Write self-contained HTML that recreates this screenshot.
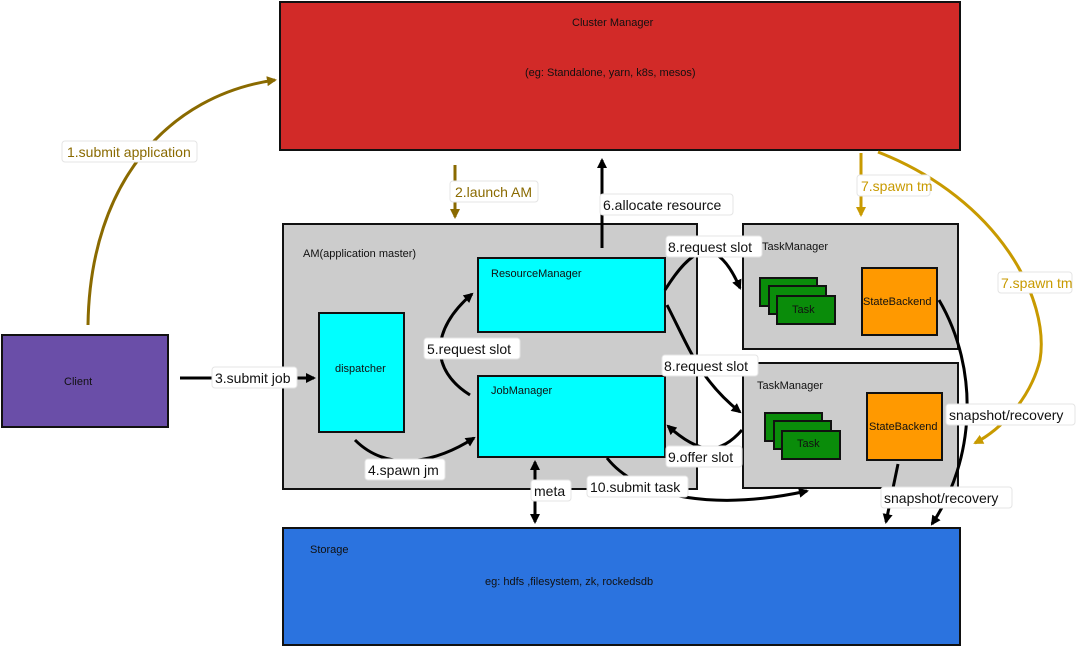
<!DOCTYPE html>
<html><head><meta charset="utf-8"><style>
body{margin:0;background:#fff;}
svg{display:block;font-family:"Liberation Sans",sans-serif;}
.lb{fill:#fff;stroke:#e4e4e4;stroke-width:1;}
.s{font-size:11px;fill:#111;}
</style></head><body>
<svg width="1080" height="648" viewBox="0 0 1080 648">
<defs>
<marker id="ak" markerWidth="12" markerHeight="12" refX="8" refY="5" orient="auto-start-reverse" markerUnits="userSpaceOnUse"><path d="M0,0 L10,5 L0,10 z" fill="#000"/></marker>
<marker id="ad" markerWidth="12" markerHeight="12" refX="8" refY="5" orient="auto" markerUnits="userSpaceOnUse"><path d="M0,0 L10,5 L0,10 z" fill="#8a6a00"/></marker>
<marker id="ay" markerWidth="12" markerHeight="12" refX="8" refY="5" orient="auto" markerUnits="userSpaceOnUse"><path d="M0,0 L10,5 L0,10 z" fill="#c89a00"/></marker>
</defs>
<g stroke="#111" stroke-width="2">
<rect x="280" y="2" width="680" height="148" fill="#d22a28"/>
<rect x="2" y="335" width="166" height="92" fill="#6a4ea8"/>
<rect x="283" y="224" width="414" height="265" fill="#cccccc"/>
<rect x="319" y="313" width="85" height="119" fill="#00ffff"/>
<rect x="478" y="258" width="187" height="74" fill="#00ffff"/>
<rect x="478" y="376" width="187" height="81" fill="#00ffff"/>
<rect x="743" y="224" width="215" height="125" fill="#cccccc"/>
<rect x="743" y="363" width="215" height="125" fill="#cccccc"/>
<rect x="760" y="278" width="57" height="28" fill="#0a8c0a"/>
<rect x="769" y="286" width="57" height="28" fill="#0a8c0a"/>
<rect x="777" y="296" width="58" height="28" fill="#0a8c0a"/>
<rect x="862" y="268" width="75" height="67" fill="#ff9900"/>
<rect x="765" y="413" width="57" height="28" fill="#0a8c0a"/>
<rect x="774" y="421" width="57" height="28" fill="#0a8c0a"/>
<rect x="782" y="431" width="58" height="28" fill="#0a8c0a"/>
<rect x="867" y="393" width="75" height="67" fill="#ff9900"/>
<rect x="283" y="528" width="677" height="117" fill="#2b73df"/>
</g>
<g fill="none" stroke-width="3">
<path d="M88,325 C90,180 170,95 275,80" stroke="#8a6a00" marker-end="url(#ad)"/>
<path d="M455,165 L455,217" stroke="#8a6a00" marker-end="url(#ad)"/>
<path d="M861,153 L861,215" stroke="#c89a00" marker-end="url(#ay)"/>
<path d="M878,152 C1000,200 1050,300 1040,360 C1030,400 1000,430 975,443" stroke="#c89a00" marker-end="url(#ay)"/>
</g>
<g fill="none" stroke="#000" stroke-width="3">
<path d="M180,378 L314,378" marker-end="url(#ak)"/>
<path d="M355,440 C390,475 440,460 474,438" marker-end="url(#ak)"/>
<path d="M470,395 C430,370 430,330 472,294" marker-end="url(#ak)"/>
<path d="M602,248 L602,160" marker-end="url(#ak)"/>
<path d="M665,290 C690,250 715,230 740,288" marker-end="url(#ak)"/>
<path d="M667,305 C690,350 700,380 740,412" marker-end="url(#ak)"/>
<path d="M742,430 C720,455 700,455 668,426" marker-end="url(#ak)"/>
<path d="M607,458 C640,500 720,510 807,491" marker-end="url(#ak)"/>
<path d="M535,462 L535,522" marker-start="url(#ak)" marker-end="url(#ak)"/>
<path d="M898,464 L886,522" marker-end="url(#ak)"/>
<path d="M939,300 C980,370 975,460 932,524" marker-end="url(#ak)"/>
</g>
<g>
<rect class="lb" x="62" y="141" width="135" height="21" rx="3"/>
<text x="67" y="157" font-size="14" fill="#8a6a00">1.submit application</text>
<rect class="lb" x="450" y="181" width="88" height="21" rx="3"/>
<text x="455" y="197" font-size="14" fill="#8a6a00">2.launch AM</text>
<rect class="lb" x="600" y="194" width="133" height="21" rx="3"/>
<text x="603" y="210" font-size="14" fill="#111">6.allocate resource</text>
<rect class="lb" x="857" y="175" width="73" height="21" rx="3"/>
<text x="861" y="191" font-size="14" fill="#c89a00">7.spawn tm</text>
<rect class="lb" x="998" y="272" width="74" height="21" rx="3"/>
<text x="1001" y="288" font-size="14" fill="#c89a00">7.spawn tm</text>
<rect class="lb" x="212" y="367" width="85" height="21" rx="3"/>
<text x="215" y="383" font-size="14" fill="#111">3.submit job</text>
<rect class="lb" x="424" y="338" width="96" height="21" rx="3"/>
<text x="427" y="354" font-size="14" fill="#111">5.request slot</text>
<rect class="lb" x="365" y="459" width="80" height="21" rx="3"/>
<text x="368" y="475" font-size="14" fill="#111">4.spawn jm</text>
<rect class="lb" x="666" y="236" width="96" height="21" rx="3"/>
<text x="668" y="252" font-size="14" fill="#111">8.request slot</text>
<rect class="lb" x="662" y="355" width="96" height="21" rx="3"/>
<text x="664" y="371" font-size="14" fill="#111">8.request slot</text>
<rect class="lb" x="666" y="446" width="76" height="21" rx="3"/>
<text x="668" y="462" font-size="14" fill="#111">9.offer slot</text>
<rect class="lb" x="587" y="476" width="101" height="21" rx="3"/>
<text x="590" y="492" font-size="14" fill="#111">10.submit task</text>
<rect class="lb" x="531" y="480" width="40" height="21" rx="3"/>
<text x="534" y="496" font-size="14" fill="#111">meta</text>
<rect class="lb" x="946" y="404" width="129" height="21" rx="3"/>
<text x="949" y="420" font-size="14" fill="#111">snapshot/recovery</text>
<rect class="lb" x="881" y="487" width="131" height="21" rx="3"/>
<text x="884" y="503" font-size="14" fill="#111">snapshot/recovery</text>
</g>
<g>
<text x="572" y="26" class="s">Cluster Manager</text>
<text x="525" y="76" class="s">(eg: Standalone, yarn, k8s, mesos)</text>
<text x="64" y="385" class="s">Client</text>
<text x="303" y="257" class="s">AM(application master)</text>
<text x="335" y="372" class="s">dispatcher</text>
<text x="491" y="277" class="s">ResourceManager</text>
<text x="491" y="394" class="s">JobManager</text>
<text x="762" y="250" class="s">TaskManager</text>
<text x="757" y="389" class="s">TaskManager</text>
<text x="792" y="313" class="s">Task</text>
<text x="797" y="447" class="s">Task</text>
<text x="863" y="305" class="s" font-size="10">StateBackend</text>
<text x="869" y="430" class="s" font-size="10">StateBackend</text>
<text x="310" y="553" class="s">Storage</text>
<text x="485" y="585" class="s">eg: hdfs ,filesystem, zk, rockedsdb</text>
</g>
</svg>
</body></html>
